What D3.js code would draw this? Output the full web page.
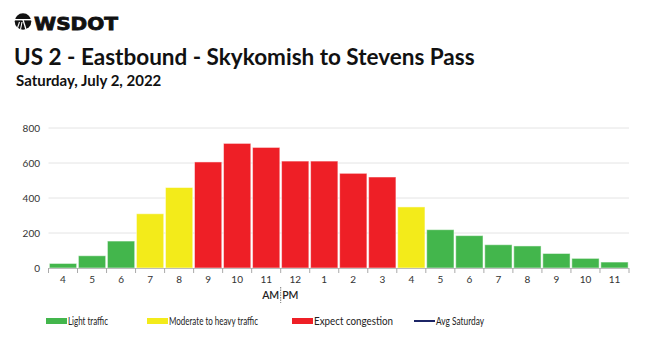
<!DOCTYPE html>
<html>
<head>
<meta charset="utf-8">
<script src="https://cdn.jsdelivr.net/npm/d3@7"></script>
<style>
  html, body { margin: 0; padding: 0; background: #fff; }
  svg { display: block; font-family: Lato, "Open Sans", sans-serif; }
</style>
</head>
<body>
<svg id="chart" width="650" height="337"></svg>
<script>
// Hourly volumes, 4 AM through 11 PM
const hours = ["4", "5", "6", "7", "8", "9", "10", "11", "12", "1", "2", "3", "4", "5", "6", "7", "8", "9", "10", "11"];
const volumes = [26, 70, 154, 310, 460, 606, 712, 689, 611, 611, 541, 520, 349, 219, 185, 133, 126, 83, 55, 34];
const levels = ["light", "light", "light", "moderate", "moderate", "heavy", "heavy", "heavy", "heavy", "heavy", "heavy", "heavy",
                "moderate", "light", "light", "light", "light", "light", "light", "light"];
const yTicks = [0, 200, 400, 600, 800];

const legendItems = [
  { key: "light", label: "Light traffic" },
  { key: "moderate", label: "Moderate to heavy traffic" },
  { key: "heavy", label: "Expect congestion" },
  { key: "avg", label: "Avg Saturday" }
];
const colors = { light: "#43b64c", moderate: "#f3eb1a", heavy: "#ee1f26", avg: "#1c2566" };

const svg = d3.select("#chart");
const margin = { left: 48.5, right: 21, top: 128, bottom: 69 };
const W = 650, H = 337;
const baseY = 268;

const x = d3.scaleBand()
  .domain(d3.range(hours.length))
  .range([margin.left, W - margin.right])
  .paddingInner(0.06)
  .paddingOuter(0.03);

const y = d3.scaleLinear().domain([0, 800]).range([baseY, margin.top]);

// Header: logo
const logo = svg.append("g").attr("transform", "translate(23,21.5)");
logo.append("circle").attr("r", 8.3).attr("fill", "#111");
logo.append("line").attr("x1", -8).attr("x2", 8).attr("y1", -1.8).attr("y2", -1.8)
  .attr("stroke", "#fff").attr("stroke-width", 1.4);
logo.append("line").attr("x1", 0).attr("x2", 3).attr("y1", -1.8).attr("y2", 8)
  .attr("stroke", "#fff").attr("stroke-width", 1.3);
logo.append("line").attr("x1", -3.5).attr("x2", -5.5).attr("y1", 0.5).attr("y2", 6.5)
  .attr("stroke", "#fff").attr("stroke-width", 1.1);
logo.append("line").attr("x1", -1).attr("x2", -2.5).attr("y1", 0.5).attr("y2", 8)
  .attr("stroke", "#fff").attr("stroke-width", 1.1);

svg.append("text")
  .attr("x", 34).attr("y", 30)
  .attr("font-family", "'DejaVu Sans', sans-serif")
  .attr("font-weight", 900)
  .attr("font-size", 17)
  .attr("stroke", "#111").attr("stroke-width", 0.8)
  .attr("fill", "#111")
  .attr("textLength", 84).attr("lengthAdjust", "spacingAndGlyphs")
  .text("WSDOT");

svg.append("text")
  .attr("x", 14).attr("y", 65)
  .attr("font-size", 22.5).attr("font-weight", 700).attr("fill", "#111")
  .text("US 2 - Eastbound - Skykomish to Stevens Pass");

svg.append("text")
  .attr("x", 16).attr("y", 86)
  .attr("font-size", 15).attr("font-weight", 700).attr("fill", "#111")
  .text("Saturday, July 2, 2022");

// Gridlines and y labels
svg.append("g").selectAll("line").data(yTicks.filter(d => d > 0)).join("line")
  .attr("x1", margin.left).attr("x2", W - margin.right)
  .attr("y1", d => y(d)).attr("y2", d => y(d))
  .attr("stroke", "#e4e4e4").attr("stroke-width", 1);

svg.append("g").selectAll("text").data(yTicks).join("text")
  .attr("x", 40).attr("y", d => y(d)).attr("dy", "0.35em")
  .attr("text-anchor", "end").attr("font-size", 10).attr("fill", "#333")
  .text(d => d);

// Bars
svg.append("g").selectAll("rect").data(volumes).join("rect")
  .attr("x", (d, i) => x(i))
  .attr("width", x.bandwidth())
  .attr("y", d => y(d))
  .attr("height", d => baseY - y(d))
  .attr("fill", (d, i) => colors[levels[i]])
  .attr("stroke", "#fff").attr("stroke-opacity", 0.5).attr("stroke-width", 1);

// X axis
const step = x.step();
const axisG = svg.append("g");
axisG.append("line")
  .attr("x1", margin.left).attr("x2", W - margin.right)
  .attr("y1", baseY + 0.5).attr("y2", baseY + 0.5)
  .attr("stroke", "#bbb").attr("stroke-width", 1.2);
const boundaries = d3.range(hours.length + 1).map(i =>
  i === 0 ? margin.left : (i === hours.length ? W - margin.right : x(i) - x.paddingInner() * step / 2));
axisG.selectAll("line.tick").data(boundaries).join("line")
  .attr("class", "tick")
  .attr("x1", d => d).attr("x2", d => d)
  .attr("y1", baseY).attr("y2", baseY + 5)
  .attr("stroke", "#aaa").attr("stroke-width", 1);
axisG.selectAll("text").data(hours).join("text")
  .attr("x", (d, i) => x(i) + x.bandwidth() / 2)
  .attr("y", 283)
  .attr("text-anchor", "middle").attr("font-size", 10).attr("fill", "#333")
  .text(d => d);

// AM | PM marker between 11 and 12
const noonX = boundaries[8];
svg.append("line")
  .attr("x1", noonX).attr("x2", noonX).attr("y1", 287).attr("y2", 303)
  .attr("stroke", "#555").attr("stroke-width", 0.8).attr("stroke-dasharray", "1.5,1");
svg.append("text").attr("x", noonX - 1.5).attr("y", 299)
  .attr("text-anchor", "end").attr("font-size", 10.5).attr("font-weight", 600).attr("fill", "#222").text("AM");
svg.append("text").attr("x", noonX + 1.5).attr("y", 299)
  .attr("text-anchor", "start").attr("font-size", 10.5).attr("font-weight", 600).attr("fill", "#222").text("PM");

// Legend
const legendX = [46, 147, 292, 414];
const textLen = [40, 89, 79, 48];
const leg = svg.append("g").selectAll("g").data(legendItems).join("g")
  .attr("transform", (d, i) => `translate(${legendX[i]},321)`);
leg.each(function (d, i) {
  const g = d3.select(this);
  if (d.key === "avg") {
    g.append("line").attr("x1", 0).attr("x2", 21).attr("y1", 0).attr("y2", 0)
      .attr("stroke", colors.avg).attr("stroke-width", 2);
  } else {
    g.append("rect").attr("x", 0).attr("y", -3).attr("width", 21).attr("height", 6)
      .attr("fill", colors[d.key]);
  }
  g.append("text").attr("x", 22).attr("y", 0).attr("dy", "0.35em")
    .attr("font-size", 11).attr("fill", "#222")
    .attr("textLength", textLen[i]).attr("lengthAdjust", "spacingAndGlyphs")
    .text(d.label);
});
</script>
</body>
</html>
